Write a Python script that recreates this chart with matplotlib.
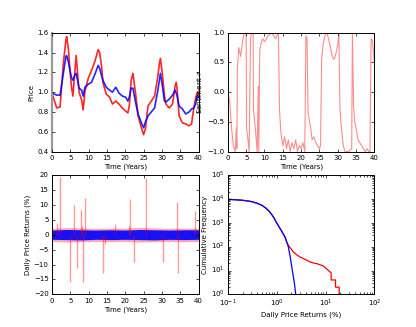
import matplotlib
matplotlib.use("Agg")
import matplotlib.pyplot as plt

# ---------------- data ----------------
price_t = [0, 1.3, 2.2, 3.1, 3.8, 4.0, 4.5, 4.9, 5.3, 5.7, 6.2, 6.6, 7.4, 8.1, 8.5, 9.0, 9.9,
           10.8, 11.7, 12.6, 13.0, 13.5, 13.9, 14.8, 15.7, 16.5, 17.4, 18.3, 19.2, 20.1, 20.7,
           21.1, 21.6, 22.1, 22.9, 23.5, 24.4, 25.0, 25.5, 26.2, 27.1, 28.0, 28.9, 29.3, 29.6,
           30.1, 30.7, 31.1, 32.0, 32.9, 33.6, 33.9, 34.1, 34.7, 35.6, 36.5, 37.4, 38.1, 38.7,
           39.2, 39.6, 40.0]
price_red = [0.99, 0.84, 0.85, 1.29, 1.53, 1.56, 1.43, 1.22, 1.06, 0.96, 1.19, 1.37, 1.00, 0.92,
             0.82, 1.01, 1.14, 1.22, 1.31, 1.43, 1.40, 1.27, 1.10, 0.98, 0.95, 0.88, 0.91, 0.88,
             0.84, 0.81, 0.79, 0.86, 1.12, 1.19, 0.96, 0.76, 0.64, 0.57, 0.63, 0.86, 0.91, 0.96,
             1.16, 1.29, 1.34, 1.19, 0.96, 0.88, 0.84, 0.88, 1.06, 1.10, 1.05, 0.76, 0.69, 0.68,
             0.66, 0.68, 0.84, 0.94, 0.99, 0.97]
price_blue = [0.99, 0.97, 0.97, 1.19, 1.36, 1.37, 1.30, 1.22, 1.15, 1.12, 1.17, 1.19, 1.04, 1.02,
              0.96, 1.05, 1.08, 1.10, 1.18, 1.27, 1.24, 1.17, 1.12, 1.05, 1.02, 1.00, 1.05, 0.99,
              0.96, 0.95, 0.91, 0.95, 1.04, 1.04, 0.88, 0.78, 0.69, 0.64, 0.70, 0.76, 0.80, 0.84,
              1.02, 1.12, 1.19, 1.07, 0.91, 0.90, 0.93, 0.97, 1.02, 0.99, 0.97, 0.86, 0.83, 0.78,
              0.80, 0.83, 0.84, 0.88, 0.96, 0.95]

sent_t = [0, 0.5, 1, 1.5, 2, 2.3, 2.45, 2.6, 3, 3.5, 4, 4.5, 5, 5.1, 5.5, 5.8, 6.2, 6.5, 6.9, 7.0,
          7.5, 8.0, 8.3, 8.45, 8.7, 9, 9.5, 10, 11, 12, 13, 13.8, 14.1, 14.5, 15, 15.5, 16, 16.5,
          17, 17.5, 18, 18.5, 19, 19.5, 20, 20.5, 21, 21.3, 21.6, 21.9, 22.2, 22.6, 23, 23.5, 24,
          24.5, 25, 25.3, 25.6, 26, 26.5, 27, 27.5, 28, 28.5, 29, 29.5, 30, 30.3, 30.6, 31, 31.5,
          32, 33, 33.8, 34.0, 34.3, 34.6, 35, 35.5, 36, 36.5, 37, 37.5, 38, 38.5, 38.8, 39.1,
          39.5, 40]
sent_v = [0.0, -0.15, -0.6, -0.9, -1.0, -0.6, -0.95, 0.4, 0.75, 0.6, 0.85, 1.0, 1.0, -0.6, -0.8,
          -1.0, 0.9, 1.0, 1.0, -0.3, -0.6, -1.0, 0.1, -1.0, 0.7, 0.8, 0.9, 0.85, 0.95, 1.0, 0.9,
          1.0, -0.3, -0.7, -0.9, -0.75, -0.95, -0.8, -1.0, -0.85, -0.95, -0.8, -1.0, -0.9, -0.95,
          -0.85, -1.0, 0.95, 0.9, -0.35, -0.45, -0.6, -0.8, -0.75, -0.85, -0.9, -0.95, -0.9, 0.55,
          0.8, 0.95, 1.0, 0.9, 0.75, 0.6, 0.55, 0.65, 0.8, 1.0, -0.3, -0.6, -0.9, -1.0, -1.0,
          -0.95, 1.0, -0.2, -0.5, -0.6, -0.8, -0.85, -0.9, -0.95, -1.0, -0.95, -1.0, -1.0, 0.9,
          0.85, 0.5]

spike_t = [1.5, 2.3, 4.8, 5.9, 6.8, 7.9, 8.1, 8.5, 9.0, 14.0, 14.5, 17.3, 21.0, 21.3, 22.5,
           25.7, 30.2, 34.0, 34.5, 39.0]
spike_v = [4, 19.5, -16, 10, -11, 8.5, 3, -16, 12.3, -13, -3, 3.5, 3, 12, -9, 19, -9, 11,
           -12.8, 8]

band_t = [0, 4, 8, 12, 16, 20, 24, 28, 32, 36, 40]
band_blue_hi = [1.6, 1.8, 1.7, 1.6, 1.7, 1.6, 1.8, 1.7, 1.6, 1.7, 1.7]
band_blue_lo = [-1.5, -1.6, -1.7, -1.5, -1.6, -1.5, -1.6, -1.7, -1.5, -1.6, -1.5]
band_red_hi = [2.2, 2.4, 2.3, 2.2, 2.3, 2.2, 2.5, 2.3, 2.2, 2.3, 2.2]
band_red_lo = [-2.2, -2.4, -2.3, -2.2, -2.3, -2.2, -2.4, -2.3, -2.2, -2.3, -2.2]

ccdf_blue_x = [0.1, 0.2, 0.3, 0.4, 0.5, 0.6, 0.7, 0.8, 0.9, 1.0, 1.2, 1.48, 1.73, 1.9, 2.09,
               2.3, 2.45, 2.5]
ccdf_blue_y = [9900, 9000, 8000, 6700, 5500, 4200, 3100, 2200, 1500, 1000, 540, 256, 100, 35,
               10, 3, 1, 0.5]
ccdf_red_x = [0.1, 0.2, 0.3, 0.4, 0.5, 0.6, 0.7, 0.8, 0.9, 1.0, 1.2, 1.48, 1.6, 1.73, 2.0,
              2.19, 2.6, 3.0, 4.0, 4.8, 5.5, 6.6, 8.0, 9.0, 10.0, 11.5, 13.0, 13.0, 16.0, 16.0,
              19.0, 19.0, 19.5, 19.5]
ccdf_red_y = [9900, 9000, 8000, 6700, 5500, 4200, 3100, 2200, 1500, 1000, 540, 256, 160, 115,
              78, 60, 45, 37, 28, 23, 21, 19.5, 17, 15.5, 13, 10, 8, 4, 4, 2, 2, 1, 1, 0.5]

# ---------------- style ----------------
plt.style.use("classic")
plt.rcParams.update({
    "font.size": 5,
    "font.family": ["DejaVu Sans"],
    "xtick.major.size": 2.5, "ytick.major.size": 2.5,
    "xtick.minor.size": 1.3, "ytick.minor.size": 1.3,
    "xtick.major.pad": 2.5, "ytick.major.pad": 2.5,
    "axes.linewidth": 0.7,
    "axes.labelpad": 2,
})

fig = plt.figure(figsize=(4.16, 3.27), dpi=100, facecolor="white")
ax1 = fig.add_subplot(2, 2, 1)
ax2 = fig.add_subplot(2, 2, 2)
ax3 = fig.add_subplot(2, 2, 3)
ax4 = fig.add_subplot(2, 2, 4)

# top-left: prices
ax1.plot(price_t, price_red, color="red", lw=1.2, alpha=0.85)
ax1.plot(price_t, price_blue, color="blue", lw=1.2, alpha=0.85)
ax1.set_xlim(0, 40)
ax1.set_ylim(0.4, 1.6)
ax1.set_xlabel("Time (Years)")
ax1.set_ylabel("Price")
ax1.spines["left"].set_color("0.6")
ax1.spines["left"].set_linewidth(1.6)

# top-right: sentiment
ax2.plot(sent_t, sent_v, color="red", lw=0.8, alpha=0.45)
ax2.set_xlim(0, 40)
ax2.set_ylim(-1, 1)
ax2.set_xlabel("Time (Years)")
ax2.set_ylabel(r"Sentiment $\sigma$")

# bottom-left: returns
ax3.fill_between(band_t, band_red_lo, band_red_hi, color="red", alpha=0.35, lw=0)
ax3.vlines(spike_t, 0, spike_v, color="red", alpha=0.4, lw=1.0)
ax3.fill_between(band_t, band_blue_lo, band_blue_hi, color="blue", alpha=0.9, lw=0)
ax3.set_xlim(0, 40)
ax3.set_ylim(-20, 20)
ax3.set_yticks([-20, -15, -10, -5, 0, 5, 10, 15, 20])
ax3.set_xlabel("Time (Years)")
ax3.set_ylabel("Daily Price Returns (%)")

# bottom-right: cumulative frequency
ax4.plot(ccdf_red_x, ccdf_red_y, color="red", lw=0.9)
ax4.plot(ccdf_blue_x, ccdf_blue_y, color="blue", lw=0.9)
ax4.set_xscale("log")
ax4.set_yscale("log")
ax4.set_xlim(0.1, 100)
ax4.set_ylim(1, 1e5)
ax4.set_xlabel("Daily Price Returns (%)")
ax4.set_ylabel("Cumulative Frequency")

fig.savefig("out.png", dpi=100, facecolor="white")
